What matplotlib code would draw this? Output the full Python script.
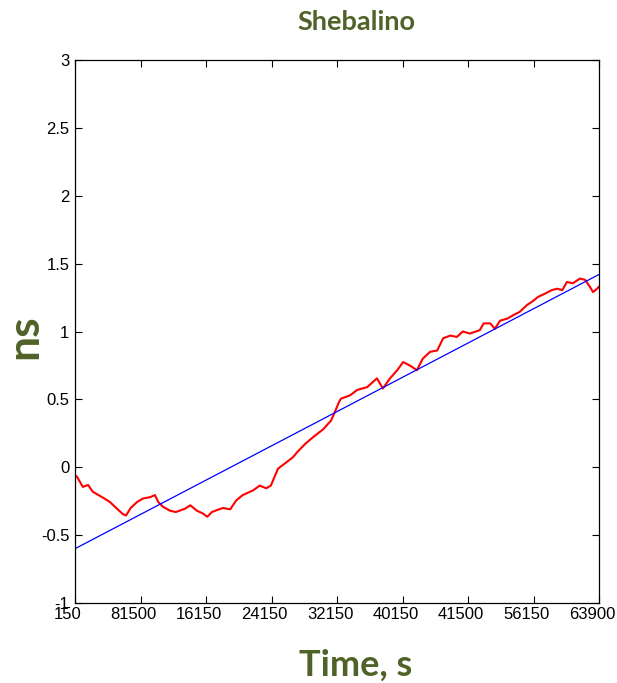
import matplotlib
matplotlib.use("Agg")
import matplotlib.pyplot as plt
import matplotlib.transforms as mtransforms
import numpy as np

# tick labels (equally spaced, as on the original)
x_labels = ["150", "81500", "16150", "24150", "32150", "40150", "41500", "56150", "63900"]
y_labels = ["-1", "-0.5", "0", "0.5", "1", "1.5", "2", "2.5", "3"]

red_x = [0.00, 0.03, 0.12, 0.20, 0.27, 0.43, 0.53, 0.63, 0.73, 0.78, 0.85, 0.95, 1.04, 1.15,
         1.22, 1.27, 1.34, 1.45, 1.54, 1.68, 1.76, 1.86, 1.95, 2.02, 2.09, 2.17, 2.26, 2.37,
         2.46, 2.56, 2.72, 2.82, 2.92, 2.99, 3.10, 3.21, 3.33, 3.39, 3.51, 3.63, 3.79, 3.91,
         3.97, 4.03, 4.06, 4.20, 4.31, 4.46, 4.61, 4.70, 4.81, 4.92, 5.01, 5.11, 5.22, 5.31,
         5.42, 5.53, 5.62, 5.73, 5.83, 5.92, 6.03, 6.18, 6.24, 6.34, 6.41, 6.49, 6.60, 6.69,
         6.79, 6.90, 6.98, 7.07, 7.18, 7.28, 7.36, 7.44, 7.51, 7.60, 7.71, 7.79, 7.86, 7.91,
         7.97, 8.00]
red_y = [-0.06, -0.07, -0.145, -0.13, -0.18, -0.225, -0.255, -0.30, -0.345, -0.355, -0.30,
         -0.255, -0.23, -0.22, -0.205, -0.255, -0.29, -0.32, -0.33, -0.305, -0.28, -0.32,
         -0.34, -0.365, -0.33, -0.315, -0.30, -0.31, -0.245, -0.205, -0.17, -0.135, -0.155,
         -0.135, -0.01, 0.03, 0.075, 0.11, 0.17, 0.22, 0.28, 0.345, 0.41, 0.48, 0.505, 0.53,
         0.57, 0.59, 0.655, 0.58, 0.655, 0.715, 0.775, 0.75, 0.715, 0.80, 0.85, 0.86, 0.95,
         0.97, 0.96, 1.00, 0.985, 1.01, 1.06, 1.06, 1.02, 1.08, 1.095, 1.12, 1.145, 1.195,
         1.22, 1.255, 1.28, 1.305, 1.315, 1.305, 1.365, 1.355, 1.39, 1.38, 1.33, 1.29,
         1.315, 1.33]

# linear fit (blue)
fit_x = [0, 8]
fit_y = [-0.6, 1.42]

green = "#4F6228"

fig = plt.figure(figsize=(6.17, 6.83), dpi=100)
ax = fig.add_axes([75/617, 1 - 603/683, 524/617, 543/683])

ax.plot(red_x, red_y, color="red", lw=1.5)
ax.plot(fit_x, fit_y, color="blue", lw=0.9)

ax.set_xlim(0, 8)
ax.set_ylim(-1, 3)
ax.set_xticks(range(len(x_labels)))
ax.set_xticklabels(x_labels)
ax.set_yticks(np.arange(-1, 3.01, 0.5))
ax.set_yticklabels(y_labels)
ax.tick_params(direction="in", top=True, right=True, length=5, width=0.8,
               labelsize=12)
ax.tick_params(axis="x", pad=3)
ax.tick_params(axis="y", pad=4)

# labels on the x axis sit a bit left of their ticks in the original
shift = mtransforms.ScaledTranslation(-7/100, 0, fig.dpi_scale_trans)
for lab in ax.get_xticklabels():
    lab.set_family("Liberation Sans")
    lab.set_transform(lab.get_transform() + shift)
for lab in ax.get_yticklabels():
    lab.set_family("Liberation Sans")
for s in ax.spines.values():
    s.set_linewidth(0.9)

fig.text(356/617, 1 - 22/683, "Shebalino", ha="center", va="center",
         fontsize=19.5, fontweight="bold", color=green, family="Lato")
fig.text(356/617, 1 - 665/683, "Time, s", ha="center", va="center",
         fontsize=26, fontweight="bold", color=green, family="Lato")
fig.text(24/617, 1 - 337/683, "ns", ha="center", va="center", rotation=90,
         fontsize=32, fontweight="bold", color=green, family="Lato")

fig.savefig("out.png", dpi=100)
